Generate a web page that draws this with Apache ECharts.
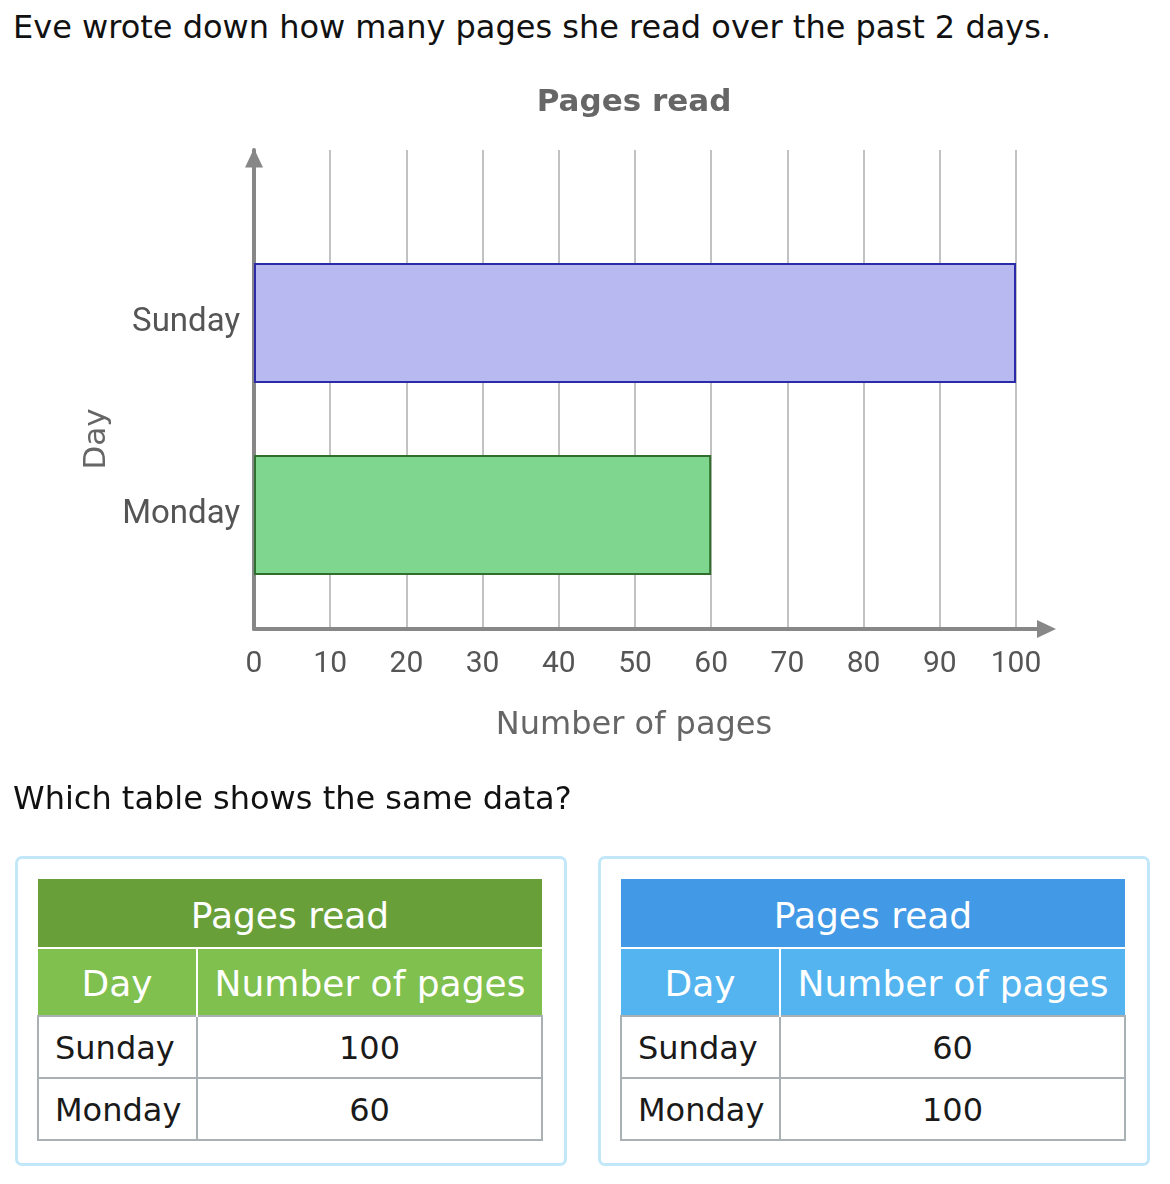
<!DOCTYPE html>
<html>
<head>
<meta charset="utf-8">
<script src="https://cdn.jsdelivr.net/npm/echarts@6/dist/echarts.min.js"></script>
<style>
  html, body { margin: 0; padding: 0; background: #fff; }
  body { width: 1170px; height: 1184px; position: relative; overflow: hidden; font-family: "DejaVu Sans", Verdana, sans-serif; }
  #chart { position: absolute; left: 0; top: 0; width: 1170px; height: 780px; }
  .q { position: absolute; left: 13px; font-size: 32px; color: #111; white-space: nowrap; line-height: 1; }
  .box { position: absolute; top: 856px; width: 552px; height: 310px; border: 3px solid #c1e7f9; border-radius: 7px; box-sizing: border-box; }
  .box table { position: absolute; left: 19px; top: 20px; width: 504px; border-collapse: collapse; table-layout: fixed; }
  .box th { color: #fff; font-weight: normal; font-size: 36px; text-align: center; padding: 0; }
  .box th.title { height: 69px; border-bottom: 2px solid #fff; padding-top: 4px; box-sizing: border-box; }
  .box th.head { height: 68px; padding-top: 2px; box-sizing: border-box; }
  .box th.head + th.head { border-left: 2px solid #fff; }
  .box td { border: 2px solid #a9b1b5; font-size: 32px; color: #1a1a1a; height: 58px; padding: 0; padding-top: 2px; }
  .box td.day { text-align: left; padding-left: 16px; }
  .box td.num { text-align: center; }
</style>
</head>
<body>
<div class="q" style="top:11px">Eve wrote down how many pages she read over the past 2 days.</div>
<div id="chart"></div>
<div class="q" style="top:782px">Which table shows the same data?</div>
<div id="tables"></div>
<script>
// ---- data ----
const days = ['Sunday', 'Monday'];
const pages = [100, 60];
const xTicksMin = 0;
const xTicksMax = 100;
const xTickStep = 10;
const chartTitle = 'Pages read';
const xName = 'Number of pages';
const yName = 'Day';
const questionTableTitle = 'Pages read';
const tableHeaders = ['Day', 'Number of pages'];
const tableADays = ['Sunday', 'Monday'];
const tableAPages = [100, 60];
const tableBDays = ['Sunday', 'Monday'];
const tableBPages = [60, 100];

// ---- styles ----
const barFills = ['#b9b9f2', '#7fd78f'];
const barBorders = ['#2b2ba8', '#2f6e2c'];
const AXIS = '#878787';
const GRID = '#c2c2c2';
const LABEL = '#555555';

const chart = echarts.init(document.getElementById('chart'), null, { renderer: 'canvas' });
const axisEnd = 104; // axis line extends a little past the last tick (arrow)
const unit = 762 / (xTicksMax - xTicksMin);

chart.setOption({
  animation: false,
  grid: [
    { left: 254, top: 227, width: 762, height: 384, containLabel: false },
    { left: 254, top: 150, width: unit * (axisEnd - xTicksMin), height: 479, containLabel: false }
  ],
  xAxis: [
    { gridIndex: 0, type: 'value', min: xTicksMin, max: xTicksMax, show: false },
    {
      gridIndex: 1, type: 'value', min: xTicksMin, max: axisEnd, interval: xTickStep,
      axisLine: { show: true, lineStyle: { color: AXIS, width: 4 }, symbol: ['none', 'triangle'], symbolSize: [18, 19], symbolOffset: [0, 0] },
      axisTick: { show: false },
      splitLine: { show: true, showMinLine: false, showMaxLine: false, lineStyle: { color: GRID, width: 2 } },
      axisLabel: { show: true, showMaxLabel: false, color: LABEL, fontFamily: 'Roboto', fontSize: 30, margin: 20 }
    }
  ],
  yAxis: [
    {
      gridIndex: 0, type: 'category', data: days, inverse: true,
      axisLine: { show: false }, axisTick: { show: false }, splitLine: { show: false },
      axisLabel: { color: LABEL, fontFamily: 'Roboto', fontSize: 33, margin: 14, padding: [9, 0, 0, 0] }
    },
    {
      gridIndex: 1, type: 'value', min: 0, max: 1,
      axisLine: { show: true, lineStyle: { color: AXIS, width: 4 }, symbol: ['none', 'triangle'], symbolSize: [18, 19], symbolOffset: [0, -8] },
      axisTick: { show: false }, splitLine: { show: false }, axisLabel: { show: false }
    }
  ],
  series: [{
    type: 'bar',
    xAxisIndex: 0, yAxisIndex: 0,
    barWidth: 120,
    data: pages.map((v, i) => ({
      value: v,
      itemStyle: { color: barFills[i], borderColor: barBorders[i], borderWidth: 2 }
    }))
  }],
  graphic: [
    { type: 'text', x: 634, y: 103, style: { text: chartTitle, font: 'bold 31px "DejaVu Sans"', fill: '#666', align: 'center', verticalAlign: 'middle' } },
    { type: 'text', x: 634, y: 726, style: { text: xName, font: '32px "DejaVu Sans"', fill: '#666', align: 'center', verticalAlign: 'middle' } },
    { type: 'text', x: 97, y: 439, rotation: Math.PI / 2, style: { text: yName, font: '31px "DejaVu Sans"', fill: '#666', align: 'center', verticalAlign: 'middle' } }
  ]
});

function buildTable(left, titleColor, headColor, dayList, pageList) {
  const box = document.createElement('div');
  box.className = 'box';
  box.style.left = left + 'px';
  let html = '<table><colgroup><col style="width:159px"><col style="width:345px"></colgroup>';
  html += '<tr><th class="title" colspan="2" style="background:' + titleColor + '">' + questionTableTitle + '</th></tr>';
  html += '<tr>' + tableHeaders.map(h => '<th class="head" style="background:' + headColor + '">' + h + '</th>').join('') + '</tr>';
  dayList.forEach((d, i) => {
    html += '<tr><td class="day">' + d + '</td><td class="num">' + pageList[i] + '</td></tr>';
  });
  html += '</table>';
  box.innerHTML = html;
  document.getElementById('tables').appendChild(box);
}
buildTable(15, '#689f39', '#80c04e', tableADays, tableAPages);
buildTable(598, '#4299e6', '#53b4ef', tableBDays, tableBPages);
</script>
</body>
</html>
